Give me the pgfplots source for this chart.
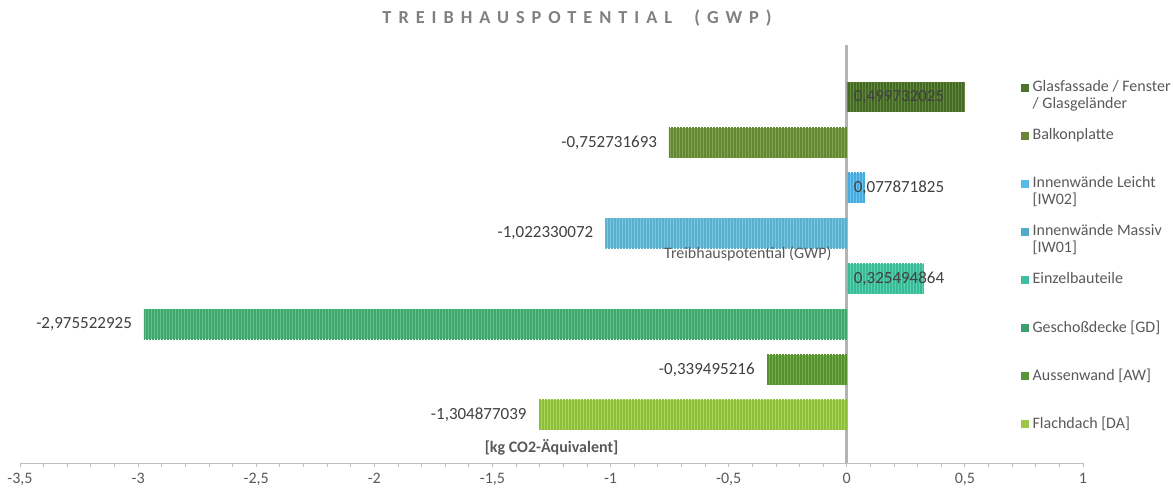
\documentclass[border=0pt]{standalone}
\usepackage{fontspec}
\setmainfont{Carlito}
\newfontfamily\titlefont[LetterSpace=38]{Carlito}
\usepackage{pgfplots}
\pgfplotsset{compat=1.18}
\usetikzlibrary{patterns.meta}

% bar fills, stripe colours and legend swatches
\definecolor{bGlas}{RGB}{98,140,60}    \definecolor{sGlas}{RGB}{70,105,40}   \definecolor{lGlas}{RGB}{78,115,45}
\definecolor{bBalk}{RGB}{128,165,75}   \definecolor{sBalk}{RGB}{100,135,55}  \definecolor{lBalk}{RGB}{105,135,55}
\definecolor{bIWL}{RGB}{100,195,240}   \definecolor{sIWL}{RGB}{75,170,220}   \definecolor{lIWL}{RGB}{90,185,235}
\definecolor{bIWM}{RGB}{120,200,225}   \definecolor{sIWM}{RGB}{90,175,205}   \definecolor{lIWM}{RGB}{80,170,200}
\definecolor{bEinz}{RGB}{85,210,175}   \definecolor{sEinz}{RGB}{60,185,150}  \definecolor{lEinz}{RGB}{60,190,160}
\definecolor{bGesch}{RGB}{95,195,140}  \definecolor{sGesch}{RGB}{65,165,110} \definecolor{lGesch}{RGB}{60,160,110}
\definecolor{bAuss}{RGB}{115,175,70}   \definecolor{sAuss}{RGB}{85,145,50}   \definecolor{lAuss}{RGB}{90,150,55}
\definecolor{bFlach}{RGB}{170,215,85}  \definecolor{sFlach}{RGB}{140,190,60} \definecolor{lFlach}{RGB}{155,200,70}
\definecolor{axgray}{RGB}{191,191,191}
\definecolor{zerogray}{RGB}{180,180,180}
\definecolor{txtgray}{RGB}{89,89,89}
\definecolor{valgray}{RGB}{64,64,64}
\definecolor{titlegray}{RGB}{128,128,128}

\newcommand\basefont{\fontsize{9.6}{10.2}\selectfont}
\newcommand\valfont{\fontsize{10.2}{11}\selectfont}
\newcommand\lgbox[1]{\parbox[t][28.8pt][t]{84pt}{\raggedright #1}}

\pgfplotsset{
  gbar/.style 2 args={xbar, bar shift=0pt, bar width=18pt, draw=none, fill=#1,
    postaction={pattern={Lines[angle=90,distance=1.8pt,line width=0.7pt]}, pattern color=#2},
    forget plot},
  neglabel/.style={nodes near coords, point meta=explicit symbolic,
    nodes near coords align={anchor=east},
    nodes near coords style={anchor=east, inner sep=0pt, xshift=-7pt, font=\valfont, text=valgray}},
  poslabel/.style={draw=none, mark=none, forget plot, nodes near coords, point meta=explicit symbolic,
    nodes near coords align={anchor=west},
    nodes near coords style={anchor=west, inner sep=0pt, xshift=4pt, font=\valfont, text=valgray}},
}

\begin{document}
\begin{tikzpicture}
\begin{axis}[
  scale only axis, width=637.8pt, height=250.8pt,
  xmin=-3.5, xmax=1, ymin=-1.06, ymax=8.15,
  axis x line*=bottom, axis y line*=left,
  x axis line style={-, draw=axgray, line width=0.6pt},
  every outer x axis line/.append style={-},
  y axis line style={draw=none},
  ytick=\empty,
  xtick={-3.5,-3,...,1}, minor x tick num=4,
  tick align=outside, major tick length=2.6pt, minor tick length=2.6pt,
  every tick/.style={draw=axgray, line width=0.5pt},
  xticklabel style={font=\basefont, text=txtgray},
  /pgf/number format/.cd, use comma, assume math mode=true, /pgfplots/.cd,
  extra x ticks={0}, extra x tick labels={},
  extra x tick style={grid=major, major grid style={draw=zerogray, line width=1.8pt}, major tick length=0pt},
  title={\titlefont\bfseries TREIBHAUSPOTENTIAL\ \ (GWP)},
  title style={at={(rel axis cs:0.524,1)}, anchor=base, yshift=7.2pt, text=titlegray, font=\fontsize{11}{12}\selectfont},
  xlabel={{[kg CO2-Äquivalent]}},
  xlabel style={at={(rel axis cs:0.5,0)}, anchor=base, yshift=6.6pt, font=\basefont\bfseries, text=txtgray},
  ylabel={Treibhauspotential (GWP)},
  ylabel style={at={(rel axis cs:0.7778,0.5)}, rotate=-90, anchor=east, xshift=-9pt, inner sep=0pt, font=\basefont, text=txtgray},
  clip=false,
  legend style={at={(rel axis cs:0.941,0.916)}, anchor=north west, draw=none, fill=none,
    inner sep=0pt, row sep=0pt, cells={anchor=base west},
    nodes={inner xsep=2.4pt, inner ysep=0pt, text depth=, font=\basefont, text=txtgray}},
  legend image code/.code={\fill[#1] (0pt,0pt) rectangle (4.8pt,4.8pt);},
]
% bars, top to bottom
\addplot[gbar={bGlas}{sGlas}]   coordinates {(0.499732025,7)};
\addplot[gbar={bBalk}{sBalk}, neglabel]  coordinates {(-0.752731693,6) [-0,752731693]};
\addplot[gbar={bIWL}{sIWL}]     coordinates {(0.077871825,5)};
\addplot[gbar={bIWM}{sIWM}, neglabel]    coordinates {(-1.022330072,4) [-1,022330072]};
\addplot[gbar={bEinz}{sEinz}]   coordinates {(0.325494864,3)};
\addplot[gbar={bGesch}{sGesch}, neglabel] coordinates {(-2.975522925,2) [-2,975522925]};
\addplot[gbar={bAuss}{sAuss}, neglabel]  coordinates {(-0.339495216,1) [-0,339495216]};
\addplot[gbar={bFlach}{sFlach}, neglabel] coordinates {(-1.304877039,0) [-1,304877039]};

% labels of the positive bars start at the zero line
\addplot[poslabel] coordinates {(0,7) [0,499732025]};
\addplot[poslabel] coordinates {(0,5) [0,077871825]};
\addplot[poslabel] coordinates {(0,3) [0,325494864]};

% legend
\addlegendimage{fill=lGlas, draw=none}
\addlegendentry{\lgbox{Glasfassade / Fenster\\/ Glasgeländer}}
\addlegendimage{fill=lBalk, draw=none}
\addlegendentry{\lgbox{Balkonplatte}}
\addlegendimage{fill=lIWL, draw=none}
\addlegendentry{\lgbox{Innenwände Leicht\\{[IW02]}}}
\addlegendimage{fill=lIWM, draw=none}
\addlegendentry{\lgbox{Innenwände Massiv\\{[IW01]}}}
\addlegendimage{fill=lEinz, draw=none}
\addlegendentry{\lgbox{Einzelbauteile}}
\addlegendimage{fill=lGesch, draw=none}
\addlegendentry{\lgbox{Geschoßdecke [GD]}}
\addlegendimage{fill=lAuss, draw=none}
\addlegendentry{\lgbox{Aussenwand [AW]}}
\addlegendimage{fill=lFlach, draw=none}
\addlegendentry{\lgbox{Flachdach [DA]}}
\end{axis}
\pgfresetboundingbox
\path ([shift={(-12pt,-19.2pt)}]current axis.south west) rectangle ([shift={(54pt,27pt)}]current axis.north east);
\end{tikzpicture}
\end{document}
